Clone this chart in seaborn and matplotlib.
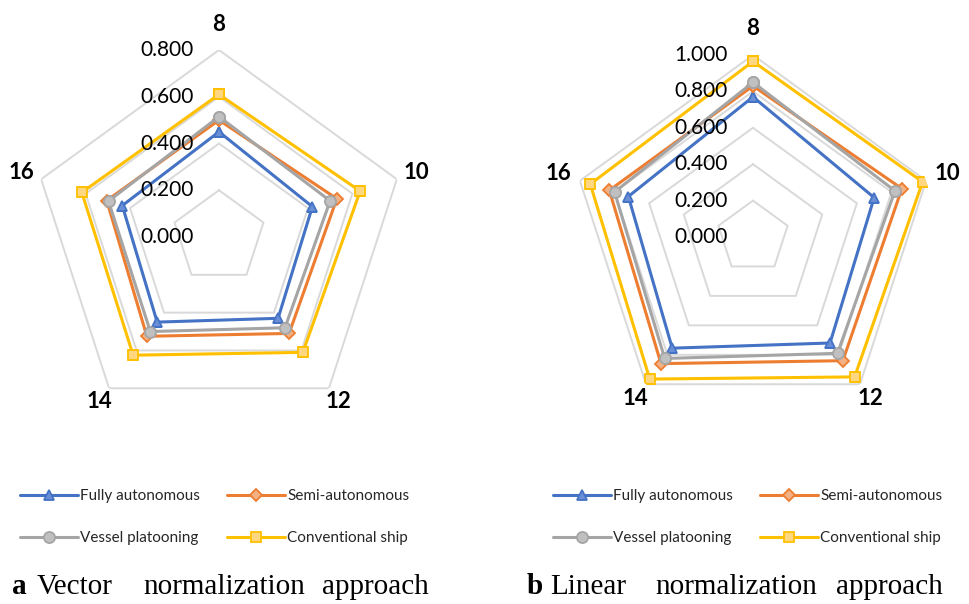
import numpy as np
import pandas as pd
import matplotlib
matplotlib.use("Agg")
import matplotlib.pyplot as plt
import matplotlib.transforms as mtransforms
from matplotlib.lines import Line2D
import seaborn as sns

# ---------------- data ----------------
categories = ["8", "10", "12", "14", "16"]
series_names = ["Fully autonomous", "Semi-autonomous", "Vessel platooning", "Conventional ship"]

vector_fully = [0.45, 0.42, 0.43, 0.45, 0.435]
vector_semi = [0.50, 0.53, 0.51, 0.525, 0.505]
vector_vessel = [0.515, 0.50, 0.48, 0.50, 0.497]
vector_conv = [0.61, 0.635, 0.61, 0.625, 0.617]

linear_fully = [0.77, 0.70, 0.72, 0.755, 0.72]
linear_semi = [0.83, 0.86, 0.84, 0.86, 0.83]
linear_vessel = [0.85, 0.82, 0.79, 0.825, 0.80]
linear_conv = [0.965, 0.98, 0.95, 0.965, 0.94]

vector_ticks = [0.0, 0.2, 0.4, 0.6, 0.8]
linear_ticks = [0.0, 0.2, 0.4, 0.6, 0.8, 1.0]

panel_a_title = ["a", "Vector", "normalization", "approach"]
panel_b_title = ["b", "Linear", "normalization", "approach"]

# ---------------- style ----------------
sns.set_theme(style="white")
plt.rcParams["font.family"] = ["Lato", "DejaVu Sans"]

colors = ["#4472C4", "#ED7D31", "#A5A5A5", "#FFC000"]
fills = ["#6A8FD6", "#F4B183", "#C0C0C0", "#FFD780"]
markers = ["^", "D", "o", "s"]
msizes = [7.5, 6, 8, 7.5]
grid_color = "#D9D9D9"

W, H = 969, 604
fig = plt.figure(figsize=(W / 100, H / 100), dpi=100)

n = len(categories)
theta = np.arange(n) * 2 * np.pi / n
theta_closed = np.append(theta, theta[0] + 2 * np.pi)


def make_panel(cx, cy, rpx, ticks, data, label_pads):
    rmax = ticks[-1]
    ax = fig.add_axes([(cx - rpx) / W, (H - cy - rpx) / H, 2 * rpx / W, 2 * rpx / H],
                      projection="polar")
    ax.set_theta_zero_location("N")
    ax.set_theta_direction(-1)
    ax.set_ylim(0, rmax)
    ax.grid(False)
    ax.set_xticks([])
    ax.set_yticks([])
    ax.spines["polar"].set_visible(False)
    ax.patch.set_alpha(0)
    # pentagon grid
    for t in ticks[1:]:
        ax.plot(theta_closed, [t] * (n + 1), color=grid_color, lw=1.4, zorder=1,
                solid_joinstyle="miter")
    # series
    for i, vals in enumerate(data):
        df = pd.DataFrame({"theta": theta_closed, "r": list(vals) + [vals[0]]})
        sns.lineplot(data=df, x="theta", y="r", ax=ax, sort=False, color=colors[i],
                     lw=2.2, marker=markers[i], markersize=msizes[i],
                     markerfacecolor=fills[i], markeredgecolor=colors[i],
                     markeredgewidth=1.3, zorder=3 + i, legend=False)
    ax.set_xlabel("")
    ax.set_ylabel("")
    ax.set_ylim(0, rmax)
    # radial tick labels
    off = mtransforms.ScaledTranslation(-25 / 100, 0, fig.dpi_scale_trans)
    for t in ticks:
        ax.text(0, t, f"{t:.3f}", transform=ax.transData + off, ha="right",
                va="center", fontsize=15, color="#000000", zorder=10)
    # category labels
    for k, c in enumerate(categories):
        ax.text(theta[k], rmax * label_pads[k], c, ha="center", va="center",
                fontsize=16, fontweight="bold", color="#000000", clip_on=False)
    return ax


make_panel(219, 237, 187, vector_ticks,
           [vector_fully, vector_semi, vector_vessel, vector_conv],
           [1.135, 1.11, 1.09, 1.09, 1.11])
make_panel(753, 237, 182, linear_ticks,
           [linear_fully, linear_semi, linear_vessel, linear_conv],
           [1.145, 1.125, 1.10, 1.10, 1.125])

# legends (column-major fill -> reorder so rows read Fully/Semi, Vessel/Conventional)
handles = [Line2D([0], [0], color=colors[i], lw=2.2, marker=markers[i],
                  markersize=msizes[i], markerfacecolor=fills[i],
                  markeredgecolor=colors[i], markeredgewidth=1.3)
           for i in range(4)]
order = [0, 2, 1, 3]
for x0 in (20, 553):
    fig.legend([handles[i] for i in order], [series_names[i] for i in order],
               loc="upper left", bbox_to_anchor=(x0 / W, (H - 489) / H), ncol=2,
               frameon=False, fontsize=11, handlelength=3.8, handletextpad=0.15,
               columnspacing=1.75, labelspacing=1.85, borderpad=0,
               borderaxespad=0, numpoints=1)

# captions
cap_a_x = [12, 37, 143, 322]
cap_b_x = [527, 550, 655, 836]
for words, xs in ((panel_a_title, cap_a_x), (panel_b_title, cap_b_x)):
    for j, (w, x) in enumerate(zip(words, xs)):
        fig.text(x / W, (H - 594) / H, w, ha="left", va="baseline",
                 fontsize=21, family=["Liberation Serif", "DejaVu Serif"],
                 fontweight="bold" if j == 0 else "normal", color="#000000")

fig.savefig("out.png", dpi=100, facecolor="white")
